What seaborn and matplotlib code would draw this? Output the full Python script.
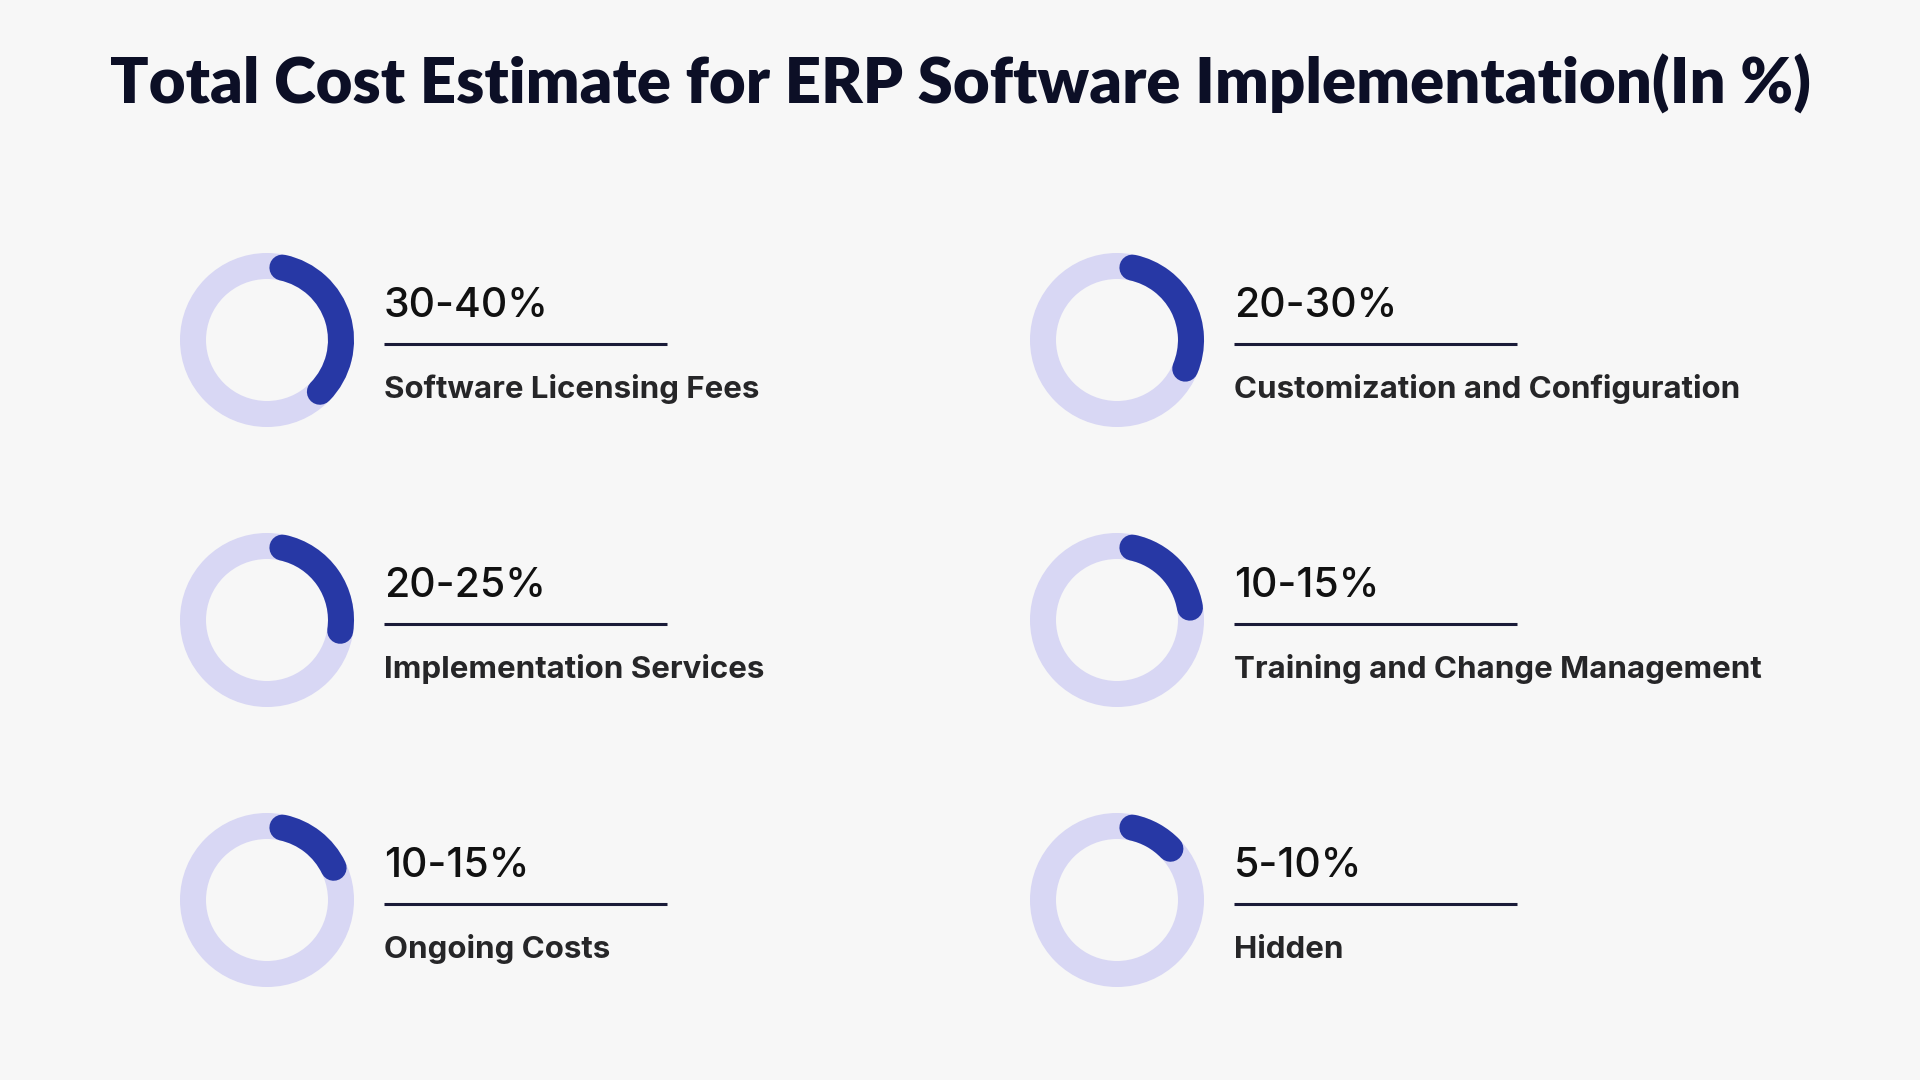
import matplotlib.pyplot as plt
import seaborn as sns
from matplotlib.patches import Arc, Circle

# Data
categories = ["Software Licensing Fees", "Customization and Configuration",
              "Implementation Services", "Training and Change Management",
              "Ongoing Costs", "Hidden"]
ranges = ["30-40%", "20-30%", "20-25%", "10-15%", "10-15%", "5-10%"]
# share of each ring that is filled in (percent of full circle)
arc_pct = [34, 28, 24, 19, 14.5, 9.5]

title = "Total Cost Estimate for ERP Software Implementation(In %)"

bg = "#F7F7F7"
ring_light = "#D8D7F4"
ring_blue = "#2738A5"

sns.set_theme(style="white", rc={"figure.facecolor": bg, "axes.facecolor": bg})

fig = plt.figure(figsize=(19.2, 10.8), dpi=100)
ax = fig.add_axes([0, 0, 1, 1])
ax.set_xlim(0, 1920)
ax.set_ylim(0, 1080)
ax.set_aspect("equal")
ax.axis("off")

# layout in pixels (y measured from the bottom)
col_x = [267, 1117]
row_y = [740, 460, 180]
ring_r = 74
ring_w = 26 * 0.72   # px -> pt
start_deg = 78       # arcs start a little right of 12 o'clock, run clockwise

for i, (cat, rng, pct) in enumerate(zip(categories, ranges, arc_pct)):
    cx = col_x[i % 2]
    cy = row_y[i // 2]

    ax.add_patch(Circle((cx, cy), ring_r, fill=False, lw=ring_w, color=ring_light))
    ax.add_patch(Arc((cx, cy), 2 * ring_r, 2 * ring_r,
                     theta1=start_deg - pct * 3.6, theta2=start_deg,
                     lw=ring_w, color=ring_blue, capstyle="round"))

    tx = cx + 117
    ax.text(tx, cy + 23, rng, fontsize=29.5, family=["Inter", "DejaVu Sans"],
            fontweight="medium", color="#111111", va="baseline", ha="left")
    ax.plot([tx, tx + 283], [cy - 4, cy - 4], color="#1A1B38", lw=2.2,
            solid_capstyle="butt")
    ax.text(tx, cy - 58, cat, fontsize=22.5, family=["Inter", "DejaVu Sans"],
            fontweight="bold", color="#262628", va="baseline", ha="left")

t = fig.text(0.5, 976 / 1080, title, ha="center", va="baseline",
             fontsize=46, fontweight="heavy", family=["Lato", "DejaVu Sans"],
             color="#0C0F26")
# fit the title to the width it has in the reference
fig.canvas.draw()
w = t.get_window_extent().width
t.set_fontsize(46 * 1700 / w)

fig.savefig("out.png", dpi=100, facecolor=bg)
